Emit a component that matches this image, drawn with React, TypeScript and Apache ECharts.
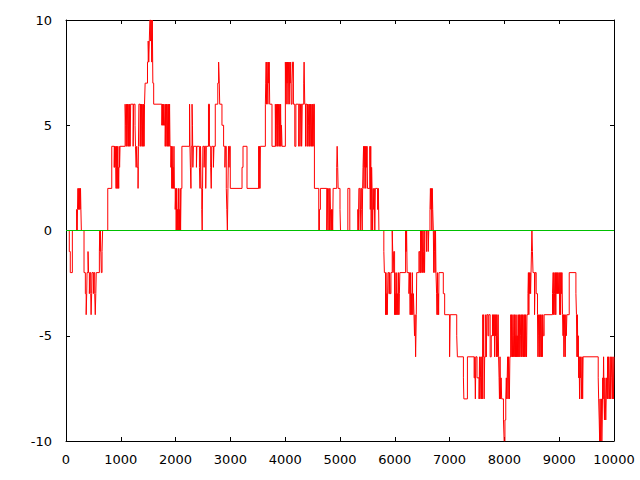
import React, { useEffect, useRef } from "react";
import * as echarts from "echarts";

// Random-walk step data (time, value)
const walkT = [
  0, 60, 78, 116, 195, 203, 210, 218, 226, 233, 241, 249, 257, 265, 272, 280,
  329, 353, 368, 378, 384, 402, 412, 426, 438, 451, 458, 468, 475, 499, 510, 524,
  534, 544, 552, 609, 616, 622, 628, 636, 645, 658, 668, 762, 835, 880, 886, 892,
  900, 908, 914, 922, 930, 938, 946, 954, 962, 970, 978, 986, 1079, 1090, 1098, 1106,
  1114, 1122, 1130, 1138, 1146, 1154, 1162, 1170, 1180, 1225, 1235, 1260, 1268, 1280, 1290, 1300,
  1315, 1322, 1330, 1353, 1361, 1369, 1377, 1385, 1393, 1401, 1409, 1417, 1425, 1433, 1444, 1487,
  1500, 1510, 1520, 1530, 1545, 1555, 1565, 1575, 1585, 1600, 1749, 1757, 1765, 1773, 1781, 1789,
  1797, 1810, 1818, 1826, 1834, 1842, 1850, 1858, 1866, 1874, 1882, 1890, 1898, 1914, 1922, 1930,
  1938, 1946, 1954, 1962, 1970, 1978, 1993, 2005, 2011, 2019, 2027, 2035, 2043, 2051, 2059, 2067,
  2075, 2083, 2091, 2100, 2115, 2255, 2262, 2270, 2280, 2286, 2300, 2308, 2315, 2325, 2380, 2388,
  2435, 2445, 2455, 2465, 2478, 2485, 2492, 2498, 2520, 2530, 2550, 2560, 2600, 2618, 2640, 2650,
  2660, 2690, 2700, 2724, 2770, 2785, 2797, 2805, 2846, 2876, 2900, 2910, 2925, 2935, 2945, 2955,
  2965, 2975, 2985, 2998, 3212, 3230, 3303, 3516, 3524, 3532, 3540, 3548, 3638, 3645, 3652, 3660,
  3668, 3676, 3684, 3692, 3700, 3708, 3717, 3759, 3820, 3828, 3836, 3844, 3852, 3860, 3868, 3876,
  3884, 3892, 3900, 3908, 3916, 3924, 3932, 3942, 4003, 4010, 4018, 4026, 4034, 4042, 4050, 4058,
  4066, 4074, 4082, 4090, 4100, 4110, 4125, 4135, 4150, 4175, 4195, 4247, 4255, 4270, 4280, 4300,
  4310, 4338, 4345, 4357, 4370, 4378, 4399, 4407, 4415, 4423, 4431, 4439, 4447, 4455, 4463, 4471,
  4479, 4487, 4495, 4503, 4511, 4520, 4533, 4612, 4625, 4642, 4759, 4770, 4780, 4796, 4808, 4816,
  4826, 4834, 4842, 4850, 4858, 4866, 4875, 4940, 4948, 4958, 4966, 5000, 5009, 5143, 5179, 5326,
  5334, 5345, 5362, 5370, 5380, 5395, 5405, 5413, 5420, 5430, 5438, 5446, 5454, 5462, 5470, 5478,
  5486, 5494, 5502, 5545, 5553, 5561, 5569, 5577, 5585, 5595, 5605, 5615, 5625, 5635, 5645, 5685,
  5700, 5710, 5800, 5810, 5831, 5839, 5847, 5855, 5863, 5875, 5892, 5905, 5915, 5930, 5953, 5962,
  5970, 5980, 5996, 6004, 6012, 6020, 6028, 6036, 6044, 6052, 6060, 6068, 6076, 6084, 6092, 6197,
  6205, 6215, 6225, 6258, 6270, 6280, 6288, 6296, 6304, 6312, 6320, 6330, 6340, 6350, 6360, 6370,
  6380, 6392, 6400, 6440, 6455, 6471, 6479, 6487, 6495, 6503, 6511, 6519, 6527, 6535, 6543, 6551,
  6580, 6590, 6610, 6620, 6642, 6650, 6660, 6668, 6676, 6684, 6692, 6703, 6711, 6719, 6727, 6735,
  6743, 6751, 6763, 6770, 6778, 6786, 6794, 6800, 6806, 6885, 6910, 7000, 7010, 7130, 7142, 7252,
  7260, 7325, 7447, 7460, 7470, 7480, 7500, 7538, 7546, 7554, 7562, 7570, 7580, 7590, 7598, 7606,
  7614, 7622, 7630, 7640, 7659, 7670, 7680, 7700, 7715, 7740, 7760, 7782, 7790, 7798, 7806, 7814,
  7822, 7830, 7838, 7846, 7854, 7862, 7870, 7878, 7886, 7894, 7903, 7910, 7920, 7930, 7940, 7950,
  7983, 7995, 8010, 8025, 8035, 8043, 8051, 8059, 8067, 8075, 8083, 8091, 8100, 8116, 8124, 8132,
  8140, 8148, 8156, 8164, 8172, 8180, 8188, 8196, 8204, 8212, 8220, 8228, 8236, 8244, 8252, 8260,
  8268, 8276, 8284, 8292, 8300, 8308, 8316, 8324, 8332, 8340, 8348, 8356, 8364, 8372, 8380, 8388,
  8396, 8404, 8412, 8430, 8438, 8446, 8454, 8462, 8470, 8478, 8486, 8494, 8502, 8512, 8522, 8550,
  8560, 8580, 8604, 8612, 8620, 8628, 8636, 8644, 8652, 8660, 8668, 8676, 8684, 8692, 8700, 8710,
  8725, 8878, 8890, 8898, 8906, 8914, 8922, 8930, 8938, 8946, 8954, 8962, 8970, 8978, 8990, 9000,
  9010, 9018, 9026, 9034, 9042, 9050, 9061, 9070, 9078, 9086, 9094, 9102, 9110, 9120, 9130, 9140,
  9183, 9305, 9315, 9324, 9332, 9340, 9348, 9356, 9364, 9372, 9380, 9388, 9396, 9404, 9412, 9420,
  9428, 9436, 9712, 9720, 9730, 9738, 9746, 9754, 9762, 9770, 9778, 9786, 9794, 9802, 9810, 9818,
  9826, 9834, 9842, 9850, 9858, 9866, 9876, 9884, 9892, 9900, 9910, 9920, 9930, 9940, 9950, 9960,
  9970, 9980, 9990, 10000,
];

const walkV = [
  0, -1, -2, 0, 1, 0, 1, 2, 1, 2, 1, 2, 1, 2, 1, 0,
  -2, -3, -4, -3, -2, -1, -2, -3, -2, -3, -4, -3, -2, -3, -2, -3,
  -4, -3, -2, -1, 0, -1, 0, -1, -2, -1, 0, 2, 4, 3, 4, 3,
  4, 3, 2, 4, 2, 4, 2, 3, 2, 4, 3, 4, 6, 5, 4, 6,
  4, 6, 5, 4, 6, 4, 6, 4, 6, 4, 6, 5, 4, 3, 4, 3,
  2, 4, 6, 4, 6, 4, 6, 5, 4, 6, 4, 6, 4, 6, 7, 8,
  9, 8, 9, 10, 9, 10, 8, 10, 7, 6, 5, 6, 5, 6, 5, 6,
  5, 4, 6, 4, 6, 5, 4, 6, 4, 6, 4, 6, 4, 3, 4, 2,
  4, 2, 3, 2, 4, 2, 1, 2, 0, 2, 0, 1, 0, 2, 0, 1,
  0, 2, 0, 2, 4, 6, 4, 3, 2, 4, 6, 5, 3, 4, 3, 4,
  3, 2, 4, 2, 1, 0, 2, 4, 3, 4, 2, 4, 6, 4, 3, 2,
  4, 3, 4, 6, 7, 8, 7, 6, 5, 4, 3, 4, 2, 1, 0, 2,
  4, 3, 4, 2, 3, 4, 2, 4, 2, 4, 2, 4, 6, 7, 8, 6,
  8, 7, 6, 8, 7, 8, 6, 4, 6, 4, 5, 6, 4, 6, 4, 6,
  5, 4, 6, 4, 6, 4, 5, 4, 8, 7, 6, 8, 7, 8, 6, 8,
  7, 6, 8, 7, 8, 6, 7, 8, 6, 4, 6, 4, 6, 4, 6, 4,
  6, 7, 8, 6, 4, 6, 4, 6, 4, 5, 6, 4, 6, 4, 6, 5,
  4, 6, 4, 6, 4, 6, 2, 0, 1, 2, 0, 2, 0, 2, 0, 2,
  1, 0, 1, 0, 1, 0, 2, 3, 4, 3, 2, 1, 0, 2, 0, 1,
  0, 2, 1, 0, 2, 1, 0, 2, 3, 4, 2, 4, 3, 4, 2, 4,
  3, 4, 2, 4, 1, 4, 0, 3, 2, 0, 2, 1, 2, 0, 2, 1,
  2, 0, -1, -2, -4, -2, -4, -3, -4, -2, -3, -2, -3, -2, 0, -1,
  -2, -1, -4, -2, -4, -3, -4, -2, -4, -3, -4, -2, -4, -3, -2, 0,
  -1, 0, -2, -3, -2, -4, -2, -4, -3, -4, -2, -4, -3, -4, -5, -4,
  -6, -4, -2, -1, -2, 0, -2, 0, -1, -2, 0, -2, -1, 0, -2, 0,
  -1, 0, -1, 0, 1, 2, 1, 2, 0, 2, 1, 0, -2, 0, -1, -2,
  0, -2, -3, -4, -2, -4, -3, -4, -2, -3, -4, -6, -4, -5, -6, -7,
  -8, -6, -7, -6, -8, -6, -7, -8, -6, -8, -7, -6, -8, -6, -8, -4,
  -6, -4, -8, -6, -4, -6, -4, -5, -4, -6, -5, -4, -5, -4, -5, -4,
  -6, -4, -5, -4, -6, -4, -6, -5, -4, -6, -7, -8, -6, -8, -7, -8,
  -9, -10, -9, -8, -7, -8, -7, -6, -8, -6, -7, -8, -6, -4, -6, -4,
  -5, -6, -4, -6, -5, -4, -6, -4, -6, -5, -6, -4, -6, -5, -6, -4,
  -6, -4, -6, -5, -4, -6, -4, -6, -4, -5, -6, -4, -6, -4, -6, -4,
  -5, -6, -4, -3, -2, -4, -2, -3, -2, -3, -2, -1, 0, -1, -2, -4,
  -2, -3, -4, -6, -4, -5, -6, -4, -6, -4, -5, -6, -4, -6, -4, -5,
  -4, -3, -2, -4, -2, -3, -4, -2, -4, -2, -3, -2, -3, -2, -3, -2,
  -4, -2, -4, -2, -3, -2, -4, -5, -4, -6, -4, -5, -6, -4, -5, -4,
  -2, -3, -4, -6, -4, -6, -5, -7, -6, -8, -6, -7, -6, -8, -7, -6,
  -8, -6, -7, -8, -9, -10, -8, -10, -9, -8, -10, -9, -7, -8, -6, -8,
  -9, -7, -8, -9, -8, -7, -8, -6, -8, -6, -7, -8, -6, -8, -6, -7,
  -8, -6, -8, -6,
];

const zeroT = [0, 10000];
const zeroV = [0, 0];

export default function App() {
  const ref = useRef<HTMLDivElement>(null);
  useEffect(() => {
    const chart = echarts.init(ref.current!, null, { renderer: "svg" });
    const lbl = { fontFamily: "DejaVu Sans", fontSize: 13, color: "#000" };
    const line = { show: true, onZero: false, lineStyle: { color: "#000", width: 1 } };
    const tick = { show: true, inside: true, length: 4, lineStyle: { color: "#000", width: 1 } };
    chart.setOption({
      animation: false,
      backgroundColor: "#ffffff",
      grid: { left: 66, top: 20, width: 548, height: 421 },
      xAxis: [
        {
          type: "value", min: 0, max: 10000, interval: 1000, position: "bottom",
          axisLine: line, axisTick: tick, splitLine: { show: false },
          axisLabel: { ...lbl, margin: 12, formatter: (v: number) => String(v) },
        },
        {
          type: "value", min: 0, max: 10000, interval: 1000, position: "top",
          axisLine: line, axisTick: tick, splitLine: { show: false },
          axisLabel: { show: false },
        },
      ],
      yAxis: [
        {
          type: "value", min: -10, max: 10, interval: 5, position: "left",
          axisLine: line, axisTick: tick, splitLine: { show: false },
          axisLabel: { ...lbl, margin: 14, formatter: (v: number) => String(v) },
        },
        {
          type: "value", min: -10, max: 10, interval: 5, position: "right",
          axisLine: line, axisTick: tick, splitLine: { show: false },
          axisLabel: { show: false },
        },
      ],
      series: [
        {
          type: "line", step: "end", xAxisIndex: 0, yAxisIndex: 0,
          data: walkT.map((t, i) => [t, walkV[i]]),
          showSymbol: false, symbol: "none",
          lineStyle: { color: "#ff0000", width: 1 }, itemStyle: { color: "#ff0000" },
        },
        {
          type: "line", xAxisIndex: 0, yAxisIndex: 0,
          data: zeroT.map((t, i) => [t, zeroV[i]]),
          showSymbol: false, symbol: "none",
          lineStyle: { color: "#00c000", width: 1 }, itemStyle: { color: "#00c000" },
        },
      ],
    });
    return () => chart.dispose();
  }, []);
  return (
    <div
      ref={ref}
      style={{ position: "fixed", left: 0, top: 0, width: 640, height: 480, background: "#fff" }}
    />
  );
}
